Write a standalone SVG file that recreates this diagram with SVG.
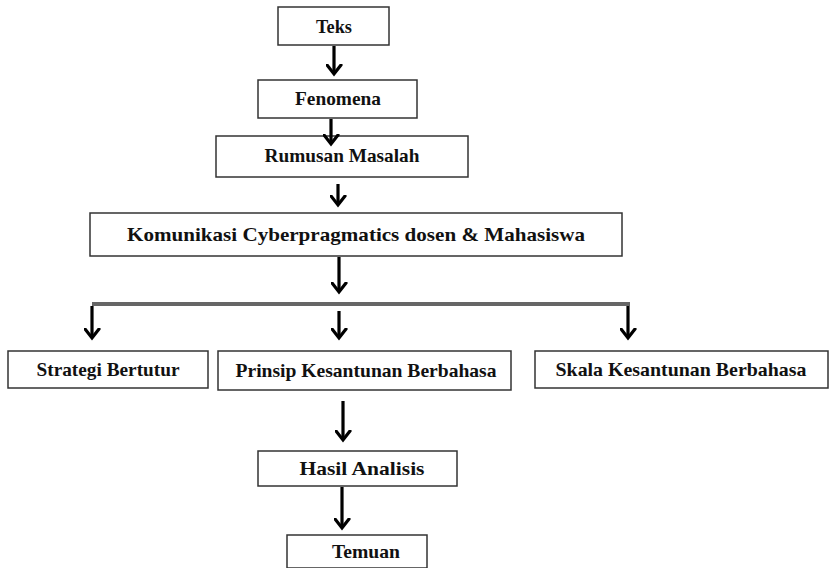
<svg xmlns="http://www.w3.org/2000/svg" width="829" height="568" viewBox="0 0 829 568">
<defs>
<style>
.box{fill:#fff;stroke:#333;stroke-width:1.5}
.t{font-family:"Liberation Serif","Times New Roman",serif;font-weight:bold;font-size:19px;fill:#111;text-anchor:middle}
.c{stroke:#000;stroke-width:3.2;fill:none}
.bar{stroke:#666;stroke-width:4;fill:none}
</style>
<marker id="ah" markerUnits="userSpaceOnUse" markerWidth="20" markerHeight="20" viewBox="-10 -12 20 20" refX="0" refY="0" orient="auto">
<path d="M-9,-7 L0,0 L-9,7" fill="none" stroke="#000" stroke-width="3.2" stroke-linecap="round" stroke-linejoin="miter"/>
</marker>
</defs>
<g id="teks"><rect class="box" x="278" y="7" width="111" height="38"/><text class="t" x="334" y="33" textLength="36" lengthAdjust="spacingAndGlyphs">Teks</text></g>
<g id="fenomena"><rect class="box" x="258" y="80" width="159" height="38"/><text class="t" x="338" y="105" textLength="86" lengthAdjust="spacingAndGlyphs">Fenomena</text></g>
<g id="rumusan"><rect class="box" x="216" y="136" width="252" height="41"/><text class="t" x="342" y="162" textLength="155" lengthAdjust="spacingAndGlyphs">Rumusan Masalah</text></g>
<g id="komunikasi"><rect class="box" x="90" y="213" width="532" height="43"/><text class="t" x="356" y="241" textLength="458" lengthAdjust="spacingAndGlyphs">Komunikasi Cyberpragmatics dosen &amp; Mahasiswa</text></g>
<g id="strategi"><rect class="box" x="8" y="351" width="200" height="37"/><text class="t" x="108" y="376" textLength="143" lengthAdjust="spacingAndGlyphs">Strategi Bertutur</text></g>
<g id="prinsip"><rect class="box" x="218" y="351" width="293" height="39"/><text class="t" x="366" y="377" textLength="261" lengthAdjust="spacingAndGlyphs">Prinsip Kesantunan Berbahasa</text></g>
<g id="skala"><rect class="box" x="535" y="351" width="293" height="37"/><text class="t" x="681" y="376" textLength="251" lengthAdjust="spacingAndGlyphs">Skala Kesantunan Berbahasa</text></g>
<g id="hasil"><rect class="box" x="258" y="451" width="199" height="35"/><text class="t" x="362" y="475" textLength="125" lengthAdjust="spacingAndGlyphs">Hasil Analisis</text></g>
<g id="temuan"><rect class="box" x="287" y="535" width="140" height="33"/><text class="t" x="366" y="558" textLength="68" lengthAdjust="spacingAndGlyphs">Temuan</text></g>
<g id="connectors">
<line class="c" x1="334" y1="46" x2="334" y2="74" marker-end="url(#ah)"/>
<line class="c" x1="331" y1="119" x2="331" y2="144" marker-end="url(#ah)"/>
<line class="c" x1="338" y1="184" x2="338" y2="205" marker-end="url(#ah)"/>
<line class="c" x1="339" y1="257" x2="339" y2="292" marker-end="url(#ah)"/>
<line class="bar" x1="92" y1="304" x2="630" y2="304"/>
<line class="c" x1="92" y1="306" x2="92" y2="338" marker-end="url(#ah)"/>
<line class="c" x1="339" y1="311" x2="339" y2="338" marker-end="url(#ah)"/>
<line class="c" x1="628" y1="306" x2="628" y2="338" marker-end="url(#ah)"/>
<line class="c" x1="343" y1="401" x2="343" y2="440" marker-end="url(#ah)"/>
<line class="c" x1="342" y1="487" x2="342" y2="528" marker-end="url(#ah)"/>
</g>
</svg>
